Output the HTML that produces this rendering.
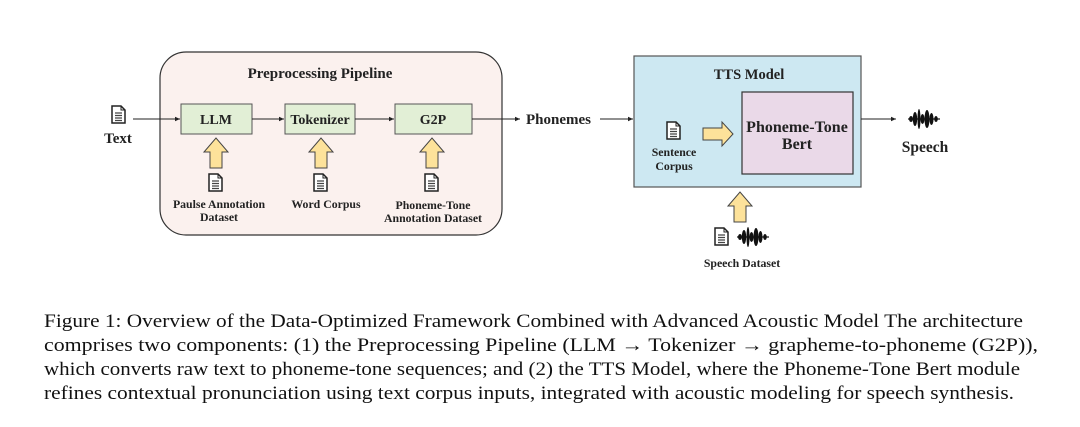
<!DOCTYPE html>
<html><head><meta charset="utf-8"><style>
html,body{margin:0;padding:0;background:#fff;}
svg{display:block;}
.b{font-family:"Liberation Serif",serif;font-weight:bold;fill:#222;}
.c{font-family:"Liberation Serif",serif;fill:#111;font-size:18.5px;}
</style></head><body>
<svg width="1080" height="427" viewBox="0 0 1080 427" xmlns="http://www.w3.org/2000/svg">
<defs>
<marker id="ah" markerWidth="6" markerHeight="6" refX="5" refY="3" orient="auto"><path d="M0,0.8 L5,3 L0,5.2 z" fill="#222"/></marker>
<g id="doc"><path d="M0,0 H9 L13,4 V17 H0 Z" fill="#fff" stroke="#222" stroke-width="1.5"/><path d="M9,0 V4 H13" fill="none" stroke="#222" stroke-width="1"/><path d="M3,7 H10 M3,9.5 H10 M3,12 H10 M3,14.5 H10" stroke="#444" stroke-width="1.3"/></g>
<g id="upa"><path d="M-6,30 V14 H-12 L0,0 L12,14 H6 V30 Z" fill="#fde29a" stroke="#444" stroke-width="1"/></g>
<g id="wave" fill="#111">
<rect x="0" y="10.4" width="32" height="1.2"/>
<ellipse cx="3" cy="11" rx="2" ry="3"/>
<ellipse cx="7" cy="11" rx="2.2" ry="7"/>
<ellipse cx="11" cy="11" rx="1.5" ry="10"/>
<ellipse cx="14.5" cy="11" rx="2" ry="5"/>
<ellipse cx="19" cy="11" rx="2.5" ry="9"/>
<ellipse cx="23.5" cy="11" rx="2" ry="6"/>
<ellipse cx="28" cy="11" rx="1.8" ry="3"/>
</g>
</defs>

<rect x="160" y="52" width="342" height="183" rx="26" fill="#fbf1ee" stroke="#333" stroke-width="1.2"/>
<text class="b" x="320" y="78" font-size="15" text-anchor="middle">Preprocessing Pipeline</text>

<use href="#doc" x="112" y="106"/>
<text class="b" x="118" y="143" font-size="15" text-anchor="middle">Text</text>

<line x1="133" y1="119" x2="180" y2="119" stroke="#222" stroke-width="1" marker-end="url(#ah)"/>
<rect x="181" y="104" width="71" height="30" fill="#e2efd6" stroke="#555" stroke-width="1"/>
<text class="b" x="216" y="124" font-size="14" text-anchor="middle">LLM</text>
<line x1="252" y1="119" x2="284" y2="119" stroke="#222" stroke-width="1" marker-end="url(#ah)"/>
<rect x="285" y="104" width="70" height="30" fill="#e2efd6" stroke="#555" stroke-width="1"/>
<text class="b" x="320" y="124" font-size="14" text-anchor="middle">Tokenizer</text>
<line x1="355" y1="119" x2="394" y2="119" stroke="#222" stroke-width="1" marker-end="url(#ah)"/>
<rect x="395" y="104" width="77" height="30" fill="#e2efd6" stroke="#555" stroke-width="1"/>
<text class="b" x="433" y="124" font-size="14" text-anchor="middle">G2P</text>
<line x1="472" y1="119" x2="520" y2="119" stroke="#222" stroke-width="1" marker-end="url(#ah)"/>

<use href="#upa" x="216" y="138"/>
<use href="#upa" x="321" y="138"/>
<use href="#upa" x="432" y="138"/>
<use href="#doc" x="209" y="174"/>
<use href="#doc" x="314" y="174"/>
<use href="#doc" x="425" y="174"/>
<text class="b" x="219" y="208" font-size="11.8" text-anchor="middle">Paulse Annotation</text>
<text class="b" x="219" y="221" font-size="11.8" text-anchor="middle">Dataset</text>
<text class="b" x="326" y="208" font-size="11.8" text-anchor="middle">Word Corpus</text>
<text class="b" x="433" y="209" font-size="11.8" text-anchor="middle">Phoneme-Tone</text>
<text class="b" x="433" y="222" font-size="11.8" text-anchor="middle">Annotation Dataset</text>

<text class="b" x="526" y="124" font-size="15">Phonemes</text>
<line x1="600" y1="119" x2="633" y2="119" stroke="#222" stroke-width="1" marker-end="url(#ah)"/>

<rect x="634" y="56" width="227" height="131" fill="#cde8f2" stroke="#555" stroke-width="1.2"/>
<text class="b" x="749" y="79" font-size="14.5" text-anchor="middle">TTS Model</text>
<rect x="742" y="92" width="111" height="82" fill="#ead9e8" stroke="#333" stroke-width="1.2"/>
<text class="b" x="797" y="132" font-size="16" text-anchor="middle">Phoneme-Tone</text>
<text class="b" x="797" y="149" font-size="16" text-anchor="middle">Bert</text>
<use href="#doc" x="667" y="122"/>
<text class="b" x="674" y="156" font-size="11.8" text-anchor="middle">Sentence</text>
<text class="b" x="674" y="170" font-size="11.8" text-anchor="middle">Corpus</text>
<path d="M703,128 H722 V122 L733,134 L722,146 V140 H703 Z" fill="#fde29a" stroke="#444" stroke-width="1"/>

<line x1="861" y1="119" x2="896" y2="119" stroke="#222" stroke-width="1" marker-end="url(#ah)"/>
<use href="#wave" x="908" y="108"/>
<text class="b" x="925" y="152" font-size="15.5" text-anchor="middle">Speech</text>

<use href="#upa" x="740" y="192"/>
<use href="#doc" x="715" y="228"/>
<use href="#wave" x="737" y="226"/>
<text class="b" x="742" y="267" font-size="11.8" text-anchor="middle">Speech Dataset</text>

<text class="c" x="44" y="327" textLength="979" lengthAdjust="spacingAndGlyphs">Figure 1: Overview of the Data-Optimized Framework Combined with Advanced Acoustic Model The architecture</text>
<text class="c" x="44" y="351" textLength="994" lengthAdjust="spacingAndGlyphs">comprises two components: (1) the Preprocessing Pipeline (LLM → Tokenizer → grapheme-to-phoneme (G2P)),</text>
<text class="c" x="44" y="375" textLength="976" lengthAdjust="spacingAndGlyphs">which converts raw text to phoneme-tone sequences; and (2) the TTS Model, where the Phoneme-Tone Bert module</text>
<text class="c" x="44" y="399" textLength="970" lengthAdjust="spacingAndGlyphs">refines contextual pronunciation using text corpus inputs, integrated with acoustic modeling for speech synthesis.</text>
</svg>
</body></html>
